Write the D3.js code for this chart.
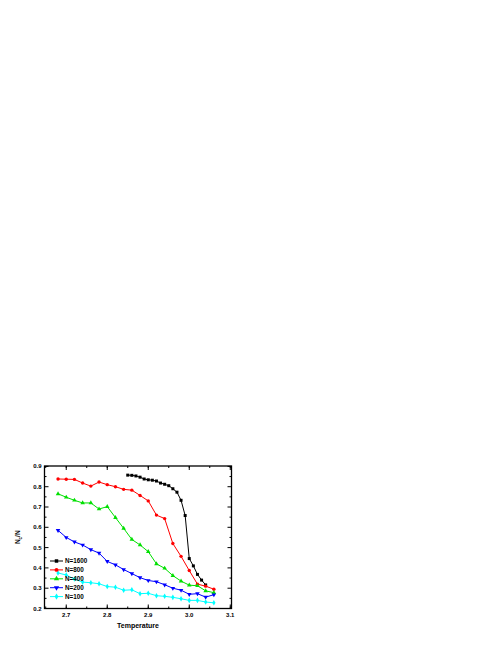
<!DOCTYPE html>
<html>
<head>
<meta charset="utf-8">
<script src="https://cdn.jsdelivr.net/npm/d3@7"></script>
<style>
  body { margin: 0; background: #fff; }
  svg { display: block; }
  text { font-family: "Liberation Sans", Arial, sans-serif; font-weight: bold; }
</style>
</head>
<body>
<div id="chart"></div>
<script>
/*
 * data
 */
const xTicks = [2.7, 2.8, 2.9, 3.0, 3.1]
const yTicks = [0.2, 0.3, 0.4, 0.5, 0.6, 0.7, 0.8, 0.9]

const temps = [2.68, 2.70, 2.72, 2.74, 2.76, 2.78, 2.80, 2.82, 2.84, 2.86,
  2.88, 2.90, 2.92, 2.94, 2.96, 2.98, 3.00, 3.02, 3.04, 3.06]
const temps1600 = [2.85, 2.86, 2.87, 2.88, 2.89, 2.90, 2.91, 2.92, 2.93, 2.94,
  2.95, 2.96, 2.97, 2.98, 2.99, 3.00, 3.01, 3.02, 3.03, 3.04]

const n1600 = [0.857, 0.856, 0.853, 0.847, 0.838, 0.834, 0.832, 0.828, 0.818, 0.812,
  0.805, 0.790, 0.773, 0.733, 0.658, 0.446, 0.410, 0.368, 0.340, 0.316]
const n800 = [0.838, 0.837, 0.836, 0.818, 0.803, 0.823, 0.810, 0.800, 0.787, 0.783,
  0.757, 0.730, 0.660, 0.643, 0.520, 0.457, 0.387, 0.320, 0.310, 0.295]
const n400 = [0.765, 0.748, 0.733, 0.720, 0.720, 0.690, 0.702, 0.648, 0.595, 0.540,
  0.513, 0.480, 0.420, 0.398, 0.362, 0.335, 0.315, 0.312, 0.287, 0.278]
const n200 = [0.585, 0.550, 0.528, 0.513, 0.490, 0.473, 0.432, 0.415, 0.392, 0.372,
  0.352, 0.338, 0.332, 0.317, 0.300, 0.290, 0.270, 0.273, 0.256, 0.268]
const n100 = [0.375, 0.365, 0.345, 0.330, 0.327, 0.322, 0.308, 0.305, 0.290, 0.292,
  0.273, 0.275, 0.263, 0.260, 0.255, 0.248, 0.240, 0.240, 0.232, 0.228]

const seriesNames = ['N=1600', 'N=800', 'N=400', 'N=200', 'N=100']
const seriesColors = ['#000000', '#ff0000', '#00e000', '#0000ff', '#00ffff']
const seriesSymbols = [d3.symbolSquare, d3.symbolCircle, d3.symbolTriangle, 'down', d3.symbolDiamond]

const series = [
  { x: temps1600, y: n1600 },
  { x: temps, y: n800 },
  { x: temps, y: n400 },
  { x: temps, y: n200 },
  { x: temps, y: n100 }
]

/*
 * svg
 */
const w = 498
const h = 645
const svg = d3.select('#chart')
  .append('svg')
  .attr('width', w)
  .attr('height', h)

const pLeft = 44.5, pRight = 231.5, pTop = 466, pBottom = 608.5

const x = d3.scaleLinear().domain([2.647, 3.103]).range([pLeft, pRight])
const y = d3.scaleLinear().domain([0.2, 0.902]).range([pBottom, pTop])

// ticks (inward, all sides)
const minorX = d3.range(2.65, 3.1, 0.05).filter(v => x(v) > pLeft + 1)
const minorY = d3.range(0.25, 0.9, 0.1)

const ticks = svg.append('g').attr('stroke', '#000').attr('stroke-width', 1)
xTicks.concat(minorX).forEach((v, i) => {
  const len = i < xTicks.length ? 4 : 2
  ticks.append('line').attr('x1', x(v)).attr('x2', x(v)).attr('y1', pBottom).attr('y2', pBottom - len)
  ticks.append('line').attr('x1', x(v)).attr('x2', x(v)).attr('y1', pTop).attr('y2', pTop + len)
})
yTicks.concat(minorY).forEach((v, i) => {
  const len = i < yTicks.length ? 4 : 2
  ticks.append('line').attr('y1', y(v)).attr('y2', y(v)).attr('x1', pLeft).attr('x2', pLeft + len)
  ticks.append('line').attr('y1', y(v)).attr('y2', y(v)).attr('x1', pRight).attr('x2', pRight - len)
})

// frame
svg.append('rect')
  .attr('x', pLeft).attr('y', pTop)
  .attr('width', pRight - pLeft).attr('height', pBottom - pTop)
  .attr('fill', 'none').attr('stroke', '#000').attr('stroke-width', 1.3)

// tick labels
svg.append('g').selectAll('text')
  .data(xTicks)
  .enter().append('text')
  .attr('x', d => x(d))
  .attr('y', pBottom + 8)
  .attr('text-anchor', 'middle')
  .attr('font-size', 6)
  .text(d => d.toFixed(1))

svg.append('g').selectAll('text')
  .data(yTicks)
  .enter().append('text')
  .attr('x', pLeft - 3)
  .attr('y', d => y(d) + 2)
  .attr('text-anchor', 'end')
  .attr('font-size', 6)
  .text(d => d.toFixed(1))

// axis titles
svg.append('text')
  .attr('x', (pLeft + pRight) / 2)
  .attr('y', 628)
  .attr('text-anchor', 'middle')
  .attr('font-size', 7)
  .text('Temperature')

const yTitle = svg.append('text')
  .attr('transform', `translate(20,${(pTop + pBottom) / 2}) rotate(-90)`)
  .attr('text-anchor', 'middle')
  .attr('font-size', 6.5)
yTitle.append('tspan').text('N')
yTitle.append('tspan').attr('font-size', 4.5).attr('dy', 1.5).text('c')
yTitle.append('tspan').attr('dy', -1.5).text('/N')

// marks
const symbolPath = (s, size) => s === 'down'
  ? d3.symbol(d3.symbolTriangle, size)()
  : d3.symbol(s, size)()

const line = d3.line()

series.forEach((s, i) => {
  const pts = s.x.map((t, j) => [x(t), y(s.y[j])])
  svg.append('path')
    .attr('d', line(pts))
    .attr('fill', 'none')
    .attr('stroke', seriesColors[i])
    .attr('stroke-width', 1)

  svg.append('g').selectAll('path')
    .data(pts)
    .enter().append('path')
    .attr('d', symbolPath(seriesSymbols[i], 9))
    .attr('transform', d => `translate(${d[0]},${d[1]})` + (seriesSymbols[i] === 'down' ? ' rotate(180)' : ''))
    .attr('fill', seriesColors[i])
})

// legend
const legend = svg.append('g')
seriesNames.forEach((name, i) => {
  const ly = 561 + i * 8.9
  legend.append('line')
    .attr('x1', 50).attr('x2', 63)
    .attr('y1', ly).attr('y2', ly)
    .attr('stroke', seriesColors[i]).attr('stroke-width', 1)
  legend.append('path')
    .attr('d', symbolPath(seriesSymbols[i], 12))
    .attr('transform', `translate(56.5,${ly})` + (seriesSymbols[i] === 'down' ? ' rotate(180)' : ''))
    .attr('fill', seriesColors[i])
  legend.append('text')
    .attr('x', 65)
    .attr('y', ly + 2.3)
    .attr('font-size', 6.3)
    .text(name)
})
</script>
</body>
</html>
